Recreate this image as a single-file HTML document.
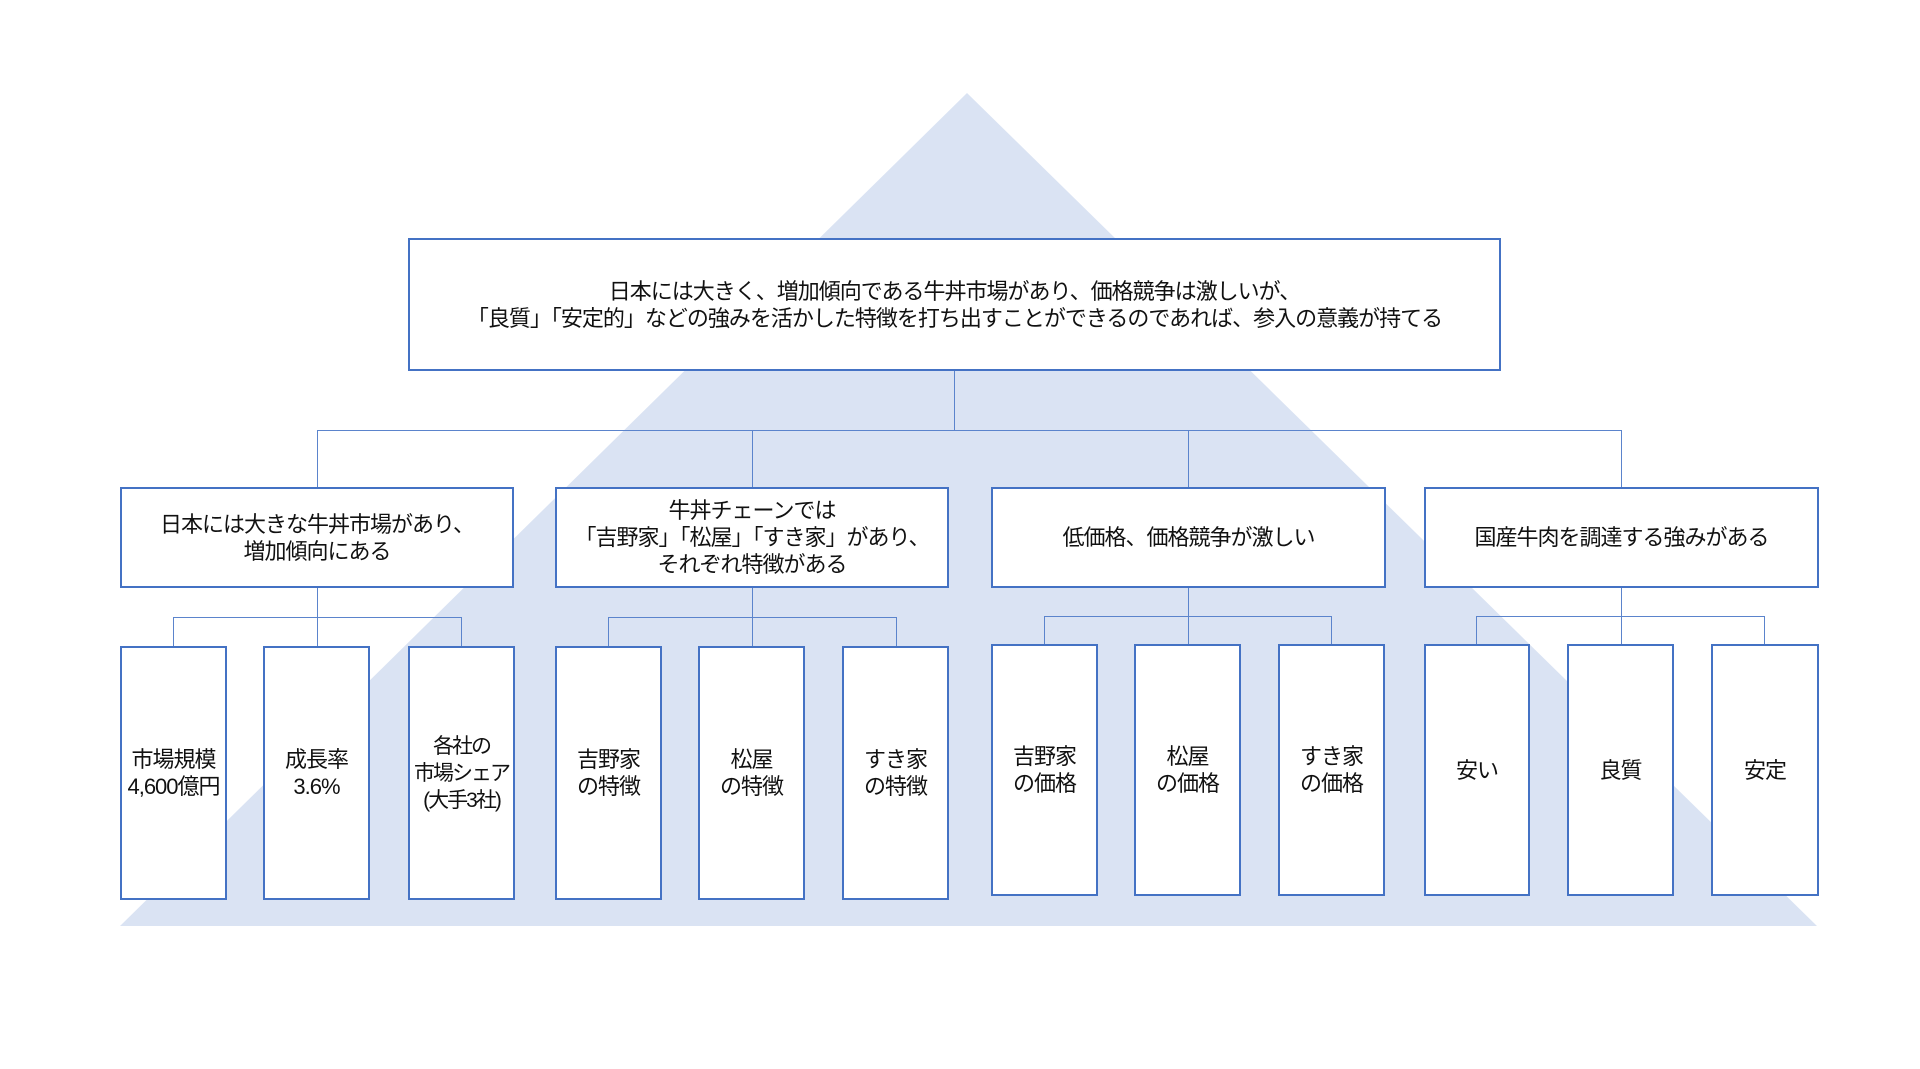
<!DOCTYPE html>
<html><head><meta charset="utf-8"><style>
body{margin:0;width:1920px;height:1069px;background:#fff;position:relative;overflow:hidden;font-family:"Liberation Sans","Noto Sans CJK JP",sans-serif;color:#111}
.b{position:absolute;box-sizing:border-box;border:2.5px solid #4472C4;background:#fff;display:flex;align-items:center;justify-content:center;text-align:center;font-size:22px;line-height:27px;letter-spacing:-1px}
.l{position:absolute;background:#5b84cc}
</style></head><body>
<svg style="position:absolute;left:0;top:0" width="1920" height="1069"><polygon points="967,93 1817,926 120,926" fill="#dae3f3"/></svg>
<div class="l" style="left:954px;top:370px;width:1px;height:61px"></div>
<div class="l" style="left:317px;top:430px;width:1305px;height:1px"></div>
<div class="l" style="left:317px;top:430px;width:1px;height:58px"></div>
<div class="l" style="left:752px;top:430px;width:1px;height:58px"></div>
<div class="l" style="left:1188px;top:430px;width:1px;height:58px"></div>
<div class="l" style="left:1621px;top:430px;width:1px;height:58px"></div>

<div class="l" style="left:317px;top:587px;width:1px;height:60px"></div>
<div class="l" style="left:173px;top:617px;width:289px;height:1px"></div>
<div class="l" style="left:173px;top:617px;width:1px;height:30px"></div>
<div class="l" style="left:461px;top:617px;width:1px;height:30px"></div>

<div class="l" style="left:752px;top:587px;width:1px;height:60px"></div>
<div class="l" style="left:608px;top:617px;width:289px;height:1px"></div>
<div class="l" style="left:608px;top:617px;width:1px;height:30px"></div>
<div class="l" style="left:896px;top:617px;width:1px;height:30px"></div>

<div class="l" style="left:1188px;top:587px;width:1px;height:58px"></div>
<div class="l" style="left:1044px;top:616px;width:288px;height:1px"></div>
<div class="l" style="left:1044px;top:616px;width:1px;height:29px"></div>
<div class="l" style="left:1331px;top:616px;width:1px;height:29px"></div>

<div class="l" style="left:1621px;top:587px;width:1px;height:58px"></div>
<div class="l" style="left:1476px;top:616px;width:289px;height:1px"></div>
<div class="l" style="left:1476px;top:616px;width:1px;height:29px"></div>
<div class="l" style="left:1764px;top:616px;width:1px;height:29px"></div>

<div class="b" style="left:408px;top:238px;width:1093px;height:133px">日本には大きく、増加傾向である牛丼市場があり、価格競争は激しいが、<br>「良質」「安定的」などの強みを活かした特徴を打ち出すことができるのであれば、参入の意義が持てる</div>

<div class="b" style="left:120px;top:487px;width:394px;height:101px">日本には大きな牛丼市場があり、<br>増加傾向にある</div>
<div class="b" style="left:555px;top:487px;width:394px;height:101px">牛丼チェーンでは<br>「吉野家」「松屋」「すき家」があり、<br>それぞれ特徴がある</div>
<div class="b" style="left:991px;top:487px;width:395px;height:101px">低価格、価格競争が激しい</div>
<div class="b" style="left:1424px;top:487px;width:395px;height:101px">国産牛肉を調達する強みがある</div>

<div class="b" style="left:120px;top:646px;width:107px;height:254px;white-space:nowrap">市場規模<br>4,600億円</div>
<div class="b" style="left:263px;top:646px;width:107px;height:254px">成長率<br>3.6%</div>
<div class="b" style="left:408px;top:646px;width:107px;height:254px;white-space:nowrap;font-size:21px;letter-spacing:-2px">各社の<br>市場シェア<br>(大手3社)</div>
<div class="b" style="left:555px;top:646px;width:107px;height:254px">吉野家<br>の特徴</div>
<div class="b" style="left:698px;top:646px;width:107px;height:254px">松屋<br>の特徴</div>
<div class="b" style="left:842px;top:646px;width:107px;height:254px">すき家<br>の特徴</div>
<div class="b" style="left:991px;top:644px;width:107px;height:252px">吉野家<br>の価格</div>
<div class="b" style="left:1134px;top:644px;width:107px;height:252px">松屋<br>の価格</div>
<div class="b" style="left:1278px;top:644px;width:107px;height:252px">すき家<br>の価格</div>
<div class="b" style="left:1424px;top:644px;width:106px;height:252px">安い</div>
<div class="b" style="left:1567px;top:644px;width:107px;height:252px">良質</div>
<div class="b" style="left:1711px;top:644px;width:108px;height:252px">安定</div>
</body></html>
